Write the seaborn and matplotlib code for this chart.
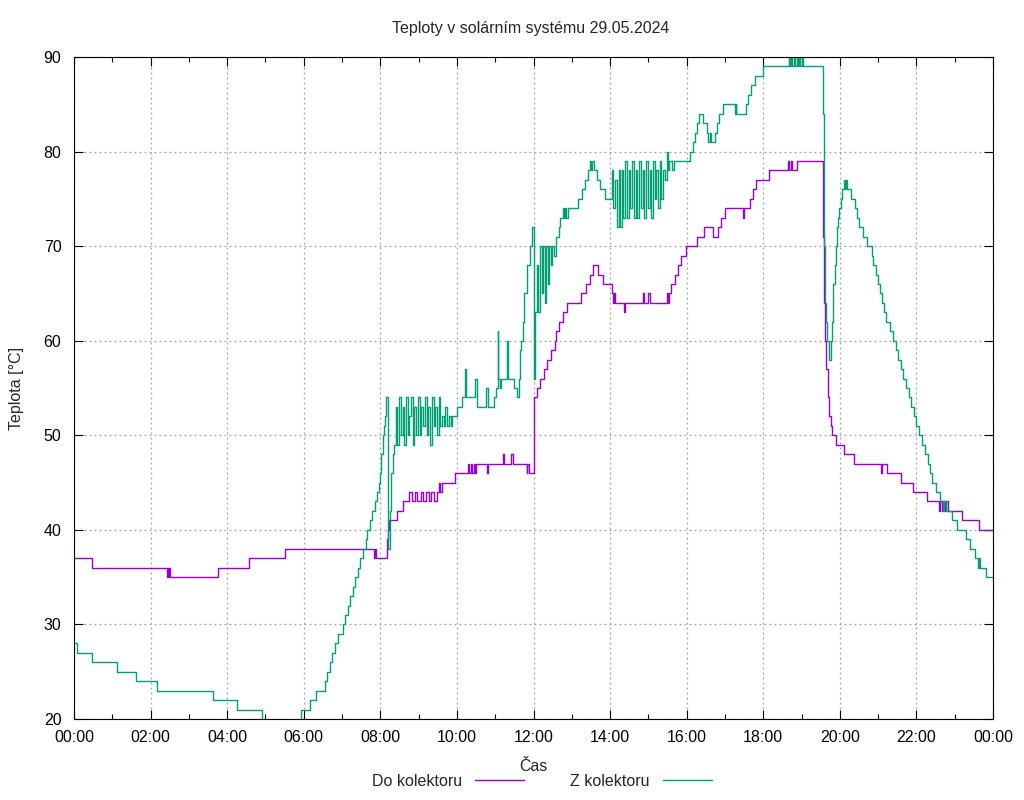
import matplotlib
matplotlib.use("Agg")
import numpy as np
import pandas as pd
import seaborn as sns
import matplotlib.pyplot as plt

title = "Teploty v solárním systému 29.05.2024"
series_names = ["Do kolektoru", "Z kolektoru"]
colors = {"Do kolektoru": "#9400d3", "Z kolektoru": "#009e73"}

# cas v hodinach od pulnoci, teplota ve stupnich (schodovy prubeh)
do_hours = [0.00, 0.48, 2.42, 2.45, 2.47, 2.49, 2.51, 3.76, 4.56, 5.51,
            7.84, 7.86, 7.88, 8.17, 8.19, 8.22, 8.43, 8.60,
            8.76, 8.83, 8.90, 8.97, 9.05, 9.12, 9.20, 9.27, 9.33, 9.40, 9.47,
            9.54, 9.57, 9.60, 9.95,
            10.28, 10.32, 10.36, 10.40, 10.44, 10.47, 10.50, 10.78, 10.80,
            11.20, 11.23, 11.40, 11.46, 11.82, 11.84, 11.87,
            12.02, 12.08, 12.18, 12.28, 12.36, 12.46, 12.55, 12.60, 12.66, 12.76, 12.87,
            13.23, 13.36, 13.48, 13.55, 13.68, 13.81,
            14.04, 14.08, 14.10, 14.12, 14.37, 14.40, 14.86, 14.89,
            15.00, 15.03, 15.48, 15.51, 15.54, 15.60, 15.70, 15.78, 15.86, 15.97,
            16.27, 16.45, 16.70, 16.82, 16.90, 17.00, 17.47, 17.50, 17.65, 17.72, 17.80,
            18.15, 18.65, 18.68, 18.72, 18.75, 18.87,
            19.57, 19.59, 19.61, 19.63, 19.69, 19.73, 19.76, 19.79, 19.89,
            20.11, 20.37, 21.07, 21.10, 21.24, 21.59, 21.92,
            22.27, 22.59, 22.62, 22.66, 22.70, 22.74, 22.77, 22.83,
            23.18, 23.64, 24.00]
do_temp = [37, 36, 35, 36, 35, 36, 35, 36, 37, 38,
           37, 38, 37, 39, 40, 41, 42, 43,
           44, 43, 44, 43, 44, 43, 44, 43, 44, 43, 44,
           45, 44, 45, 46,
           47, 46, 47, 46, 47, 46, 47, 46, 47,
           48, 47, 48, 47, 46, 47, 46,
           54, 55, 56, 57, 58, 59, 60, 61, 62, 63, 64,
           65, 66, 67, 68, 67, 66,
           65, 64, 65, 64, 63, 64, 65, 64,
           65, 64, 65, 64, 65, 66, 67, 68, 69, 70,
           71, 72, 71, 72, 73, 74, 73, 74, 75, 76, 77,
           78, 79, 78, 79, 78, 79,
           71, 64, 60, 57, 54, 52, 51, 50, 49,
           48, 47, 46, 47, 46, 45, 44,
           43, 42, 43, 42, 43, 42, 43, 42,
           41, 40, 40]

z_hours = [0.00, 0.08, 0.46, 1.12, 1.62, 2.16, 3.64, 4.25, 4.92,
           5.93, 6.16, 6.32, 6.55, 6.62, 6.68, 6.74, 6.82, 6.90,
           7.03, 7.09, 7.15, 7.22, 7.28, 7.35, 7.42, 7.48, 7.55, 7.62, 7.66,
           7.73, 7.79, 7.85, 7.90, 7.96, 8.00, 8.03, 8.06, 8.09, 8.12, 8.15,
           8.19, 8.24, 8.28, 8.32, 8.36,
           8.40, 8.44, 8.49, 8.53, 8.58, 8.62, 8.67, 8.71, 8.76, 8.80,
           8.85, 8.89, 8.94, 8.98, 9.03, 9.07, 9.12, 9.16, 9.21, 9.25,
           9.30, 9.34, 9.39, 9.43, 9.48, 9.52, 9.57, 9.61, 9.66, 9.70,
           9.75, 9.79, 9.84, 9.88,
           10.01, 10.12, 10.20, 10.23, 10.47, 10.53, 10.77, 10.80, 10.86,
           10.97, 11.02, 11.06, 11.08, 11.12, 11.15, 11.30, 11.33, 11.37,
           11.49, 11.56, 11.61, 11.65, 11.68, 11.72, 11.76, 11.82, 11.90, 11.96,
           12.02, 12.05, 12.09, 12.13, 12.17, 12.21, 12.25, 12.29, 12.33, 12.37,
           12.41, 12.45, 12.49, 12.53,
           12.58, 12.66, 12.70, 12.78, 12.80, 12.83, 12.86, 12.90,
           13.17, 13.26, 13.35, 13.42, 13.48, 13.50, 13.53, 13.58, 13.65, 13.74, 13.87,
           14.04, 14.08, 14.13, 14.17, 14.22, 14.26, 14.31, 14.35, 14.40, 14.44,
           14.49, 14.53, 14.58, 14.62, 14.67, 14.71, 14.76, 14.80, 14.85, 14.89,
           14.94, 14.98, 15.03, 15.07, 15.12, 15.16, 15.21, 15.25, 15.30, 15.34,
           15.39, 15.43, 15.48, 15.51,
           15.55, 15.62, 15.66, 16.09, 16.17, 16.22, 16.27, 16.32,
           16.43, 16.52, 16.57, 16.60, 16.64, 16.74, 16.78, 16.85, 16.96,
           17.26, 17.28, 17.30, 17.55, 17.61, 17.67, 17.79, 17.99,
           18.66, 18.69, 18.72, 18.76, 18.80, 18.84, 18.87, 18.90, 18.93, 18.97,
           19.00, 19.04, 19.57, 19.59, 19.60, 19.63, 19.67, 19.72, 19.76, 19.79,
           19.81, 19.83, 19.87, 19.90, 19.93, 19.96, 19.99, 20.02, 20.05, 20.11,
           20.14, 20.16, 20.19, 20.22, 20.29, 20.40, 20.44, 20.50, 20.61, 20.70,
           20.83, 20.87, 20.94, 21.00, 21.05, 21.09, 21.15, 21.21, 21.31, 21.40,
           21.47, 21.53, 21.60, 21.66, 21.73, 21.80, 21.86, 21.93, 22.00, 22.08,
           22.15, 22.22, 22.29, 22.35, 22.42, 22.52, 22.62, 22.70, 22.72, 22.76,
           22.92, 23.05, 23.29, 23.40, 23.53, 23.62, 23.64, 23.66, 23.83, 24.00]
z_temp = [28, 27, 26, 25, 24, 23, 22, 21, 19,
          21, 22, 23, 24, 25, 26, 27, 28, 29,
          30, 31, 32, 33, 34, 35, 36, 37, 38, 39, 40,
          41, 42, 43, 44, 45, 46, 48, 50, 51, 52, 54,
          38, 42, 46, 48, 49,
          53, 49, 54, 50, 53, 49, 54, 50, 52, 54,
          49, 53, 50, 54, 50, 53, 51, 54, 50, 53,
          49, 54, 51, 53, 50, 54, 51, 52, 51, 53,
          51, 52, 51, 52,
          53, 54, 57, 54, 56, 53, 55, 53, 53,
          54, 55, 61, 56, 55, 56, 60, 56, 56,
          55, 54, 56, 59, 60, 62, 65, 68, 70, 72,
          56, 63, 68, 63, 70, 65, 70, 64, 70, 66,
          70, 68, 70, 69,
          71, 72, 73, 74, 73, 74, 73, 74,
          75, 76, 77, 78, 79, 78, 79, 78, 77, 76, 75,
          78, 74, 77, 72, 78, 72, 78, 73, 79, 73,
          78, 74, 79, 73, 78, 73, 79, 74, 78, 73,
          79, 74, 78, 73, 79, 75, 78, 74, 79, 75,
          78, 77, 80, 78,
          79, 78, 79, 80, 81, 82, 83, 84,
          83, 82, 81, 82, 81, 82, 83, 84, 85,
          84, 85, 84, 85, 86, 87, 88, 89,
          90, 89, 90, 89, 90, 89, 90, 89, 90, 89,
          90, 89, 84, 70, 64, 62, 60, 58, 60, 62,
          63, 66, 68, 70, 72, 73, 74, 75, 76, 77,
          76, 77, 76, 76, 75, 74, 73, 72, 71, 70,
          69, 68, 67, 66, 65, 64, 63, 62, 61, 60,
          59, 58, 57, 56, 55, 54, 53, 52, 51, 50,
          49, 48, 47, 46, 45, 44, 43, 42, 43, 42,
          41, 40, 39, 38, 37, 36, 37, 36, 35, 35]

x_ticks = list(range(0, 25, 2))
x_labels = ["%02d:00" % (h % 24) for h in x_ticks]
y_ticks = list(range(20, 91, 10))

df = pd.concat([
    pd.DataFrame({"hod": do_hours, "teplota": do_temp, "serie": series_names[0]}),
    pd.DataFrame({"hod": z_hours, "teplota": z_temp, "serie": series_names[1]}),
], ignore_index=True)

sns.set_style("ticks")
plt.rcParams["font.family"] = ["Liberation Sans", "DejaVu Sans"]
plt.rcParams["font.size"] = 11.5

fig = plt.figure(figsize=(10.24, 8), dpi=100)
ax = fig.add_axes([74 / 1024, 81 / 800, 919 / 1024, 662 / 800])

sns.lineplot(data=df, x="hod", y="teplota", hue="serie", hue_order=series_names,
             palette=colors, estimator=None, sort=False, drawstyle="steps-post",
             lw=1.0, legend=False, ax=ax)

ax.set_xlim(0, 24)
ax.set_ylim(20, 90)
ax.set_xticks(x_ticks)
ax.set_xticklabels(x_labels)
ax.set_xticks(range(1, 24, 2), minor=True)
ax.set_yticks(y_ticks)
ax.tick_params(which="both", direction="in", top=True, right=True, colors="black",
               labelsize=11.5, width=0.8)
ax.tick_params(which="major", length=6.5)
ax.tick_params(which="minor", length=3.5)
ax.tick_params(axis="x", pad=8)
ax.tick_params(axis="y", pad=9)
ax.grid(True, which="major", color="#a0a0a0", linestyle=(0, (1.5, 2.5)), lw=0.9)
for s in ax.spines.values():
    s.set_color("black")
    s.set_linewidth(0.8)

ax.set_xlabel("Čas", labelpad=10)
ax.set_ylabel("Teplota [°C]", labelpad=14)

fig.text(531 / 1024, 1 - 28 / 800, title, ha="center", va="center", fontsize=11.5)

handles = ax.get_lines()[:2]
fig.legend(handles, series_names, loc="center", bbox_to_anchor=(542 / 1024, 1 - 781 / 800),
           ncol=2, frameon=False, markerfirst=False, handlelength=3.1,
           handletextpad=0.8, columnspacing=2.9, fontsize=11.5)

fig.savefig("out.png", dpi=100)
